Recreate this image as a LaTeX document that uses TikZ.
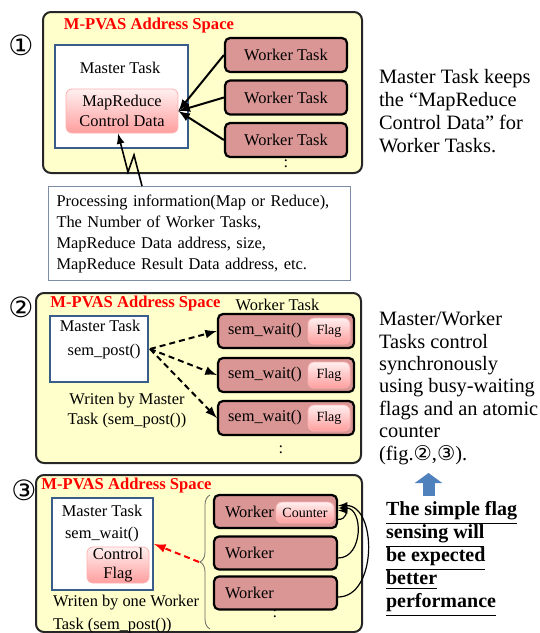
\documentclass[tikz,border=0pt]{standalone}
\usepackage{fontspec}
\setmainfont{Liberation Serif}
\newfontfamily\circfont{DejaVu Sans}
\usetikzlibrary{arrows.meta,decorations.pathreplacing}
\definecolor{spaceyellow}{RGB}{255,255,204}
\definecolor{workerred}{RGB}{217,150,148}
\definecolor{masterblue}{RGB}{56,93,138}
\definecolor{infogray}{RGB}{127,140,165}
\definecolor{arrowblue}{RGB}{79,129,189}

\begin{document}
\begin{tikzpicture}[x=0.5pt,y=-0.5pt,>=latex]
    \tikzstyle{panel}=[draw=black!85,line width=1pt,rounded corners=4pt,fill=spaceyellow,inner sep=0pt]
    \tikzstyle{master}=[draw=masterblue,line width=1pt,fill=white,inner sep=0pt]
    \tikzstyle{worker}=[draw=black,line width=1.1pt,rounded corners=2.5pt,fill=workerred,inner sep=0pt]
    \tikzstyle{ctrl}=[draw=red!30,rounded corners=3pt,top color=red!6,bottom color=red!38,inner sep=0pt]
    \tikzstyle{title}=[text=red,inner sep=1pt,font=\bfseries\fontsize{8.3}{10}\selectfont]
    \tikzstyle{small}=[font=\fontsize{8.2}{10}\selectfont]
    \tikzstyle{tiny}=[font=\fontsize{7}{8}\selectfont]
    \tikzstyle{note}=[align=left,anchor=west,font=\fontsize{10.2}{11.5}\selectfont]
    \tikzstyle{num}=[font=\circfont\fontsize{14}{14}\selectfont]
    \tikzstyle{arrow}=[->,line width=1pt]

    \useasboundingbox (0,0) rectangle (540,633);

    % Draw the first address space
    \node[panel,minimum width=159.5pt,minimum height=80.5pt] (S1) at (202.5,92.5) {};
    \node[num] (n1) at (21,45) {①};
    \node[title] (t1) at (149,26) {M-PVAS Address Space};
    \node[master,minimum width=66.5pt,minimum height=51.5pt] (M1) at (121.5,96.5) {};
    \node[small] (m1) at (120,68) {Master Task};
    \node[ctrl,small,align=center,minimum width=56pt,minimum height=22pt] (D1) at (122,111) {MapReduce\\Control Data};
    \foreach \name / \y in {1/55,2/97.5,3/140}
        \node[worker,small,minimum width=61pt,minimum height=17pt] (W1-\name) at (286,\y) {Worker Task};
    \node[small] (dots1) at (286,164) {:};
    \foreach \name in {1,2,3}
        \draw[arrow] (W1-\name.west) -- (D1.east);

    % Contents of the control data
    \node[draw=infogray,fill=white,align=left,text width=143pt,inner sep=4pt,minimum height=46.5pt,
          font=\fontsize{8.2}{10.5}\selectfont] (info) at (199.5,233.5)
        {Processing information(Map or Reduce),\\The Number of Worker Tasks,\\MapReduce Data address, size,\\MapReduce Result Data address, etc.};
    \draw[->,line width=0.8pt] ([xshift=-28.75pt]info.north) -- (134,155) -- (128,172) -- ([xshift=-2pt]D1.south);
    \node[note] (r1) at (372,111) {Master Task keeps\\the “MapReduce\\Control Data” for\\Worker Tasks.};

    % Draw the second address space
    \node[panel,minimum width=162.5pt,minimum height=85pt] (S2) at (198.5,378) {};
    \node[num] (n2) at (21,307) {②};
    \node[title] (t2) at (135.5,304) {M-PVAS Address Space};
    \node[small] (wt2) at (277.5,305) {Worker Task};
    \node[master,minimum width=49pt,minimum height=33pt] (M2) at (99,349) {};
    \node[small,align=center,font=\fontsize{8.2}{12}\selectfont] (m2) at (100,340) {Master Task\\\ \ sem\_post()};
    \coordinate (post) at (150,349);
    \foreach \name / \y in {1/331,2/375,3/418}{
        \node[worker,minimum width=68pt,minimum height=17pt] (W2-\name) at (286,\y) {};
        \node[small] (s2-\name) at (265,\y) {sem\_wait()};
        \node[ctrl,tiny,minimum width=21pt,minimum height=13pt] (F2-\name) at (329,\y) {Flag};
        \draw[arrow,dash pattern=on 3pt off 2pt] (post) -- (W2-\name.west);
    }
    \node[small,align=center] (wr2) at (127,411) {Writen by Master\\Task (sem\_post())};
    \node[small] (dots2) at (281,450) {:};
    \node[note,font=\fontsize{10.2}{11.2}\selectfont] (r2) at (372,388)
        {Master/Worker\\Tasks control\\synchronously\\using busy-waiting\\flags and an atomic\\counter\\(fig.{\circfont ②},{\circfont ③}).};

    % Draw the third address space
    \node[panel,minimum width=163pt,minimum height=78.5pt] (S3) at (199,553.5) {};
    \node[num] (n3) at (24,490) {③};
    \node[title] (t3) at (126.5,486) {M-PVAS Address Space};
    \node[master,minimum width=50.5pt,minimum height=46pt] (M3) at (102.5,544) {};
    \node[small,align=center,inner sep=1pt,font=\fontsize{8.2}{11}\selectfont] (m3) at (102,524) {Master Task\\sem\_wait()};
    \node[ctrl,align=center,minimum width=31pt,minimum height=18pt,font=\fontsize{8.2}{9.5}\selectfont] (C3) at (118,565) {Control\\Flag};
    \node[small,align=left,anchor=west,font=\fontsize{8.2}{11.5}\selectfont] (wr3) at (46,614.5) {Writen by one Worker\\Task (sem\_post())};
    \foreach \name / \y in {1/511.5,2/553,3/593}{
        \node[worker,minimum width=61.5pt,minimum height=16.5pt] (W3-\name) at (275.5,\y) {};
        \node[small,anchor=west] (k3-\name) at (218,\y) {Worker};
    }
    \node[ctrl,tiny,minimum width=29pt,minimum height=10.5pt] (K3) at (305,512.5) {Counter};
    \node[small] (dots3) at (275,614) {:};
    \draw[black!60,decorate,decoration={brace,amplitude=5pt}] (210,629) -- (210,495);
    \coordinate (tip) at (199,562);
    \draw[->,red,line width=1pt,dash pattern=on 3pt off 2pt] (tip) -- (M3.east);

    % Counter updates from every worker
    \draw[->,line width=0.6pt] ([yshift=-4pt]W3-1.east) to[out=0,in=0,looseness=2.5] ([yshift=0.5pt]W3-1.east);
    \draw[->,line width=0.6pt] ([yshift=-2.5pt]W3-2.east) to[out=0,in=0,looseness=1.3] ([yshift=1.75pt]W3-1.east);
    \draw[->,line width=0.6pt] ([yshift=-2pt]W3-3.east) to[out=0,in=0,looseness=1.1] ([yshift=3pt]W3-1.east);

    % Expected result
    \coordinate (upfoot) at (428.5,496);
    \coordinate (uphead) at (428.5,473);
    \draw[arrowblue,line width=6pt,-{Triangle[width=13.5pt,length=5pt]}] (upfoot) -- (uphead);
    \node[note,font=\bfseries\fontsize{10}{11.5}\selectfont] (b3) at (379,559)
        {\underline{The simple flag}\\\underline{sensing will}\\\underline{be expected}\\\underline{better}\\\underline{performance}};
\end{tikzpicture}
\end{document}
